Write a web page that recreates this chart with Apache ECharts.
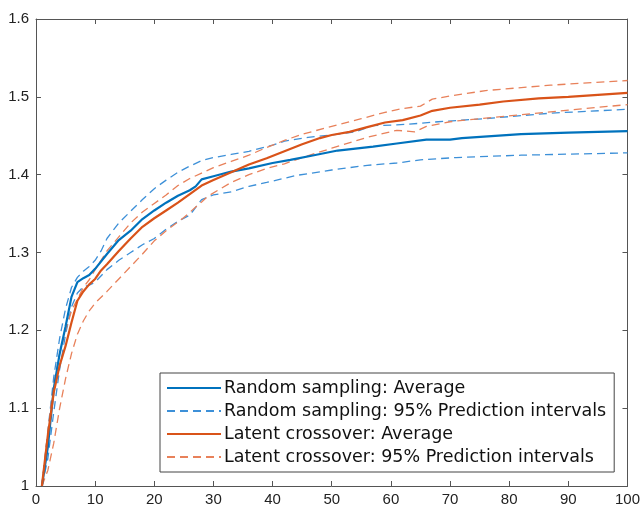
<!DOCTYPE html>
<html>
<head>
<meta charset="utf-8">
<script src="https://cdn.jsdelivr.net/npm/echarts@6/dist/echarts.min.js"></script>
<style>
  html, body { margin: 0; padding: 0; background: #fff; }
  #chart { width: 643px; height: 510px; }
</style>
</head>
<body>
<div id="chart"></div>
<script>
// x positions + values
var rsAvgX = [1,2,3,4,5,6,7,8,9,10,12,14,16,18,20,22,24,26,27,28,30,33,36,40,43,47,51,57,61,66,70,72,82,90,100];
var rsAvg  = [1.0,1.05,1.125,1.17,1.205,1.243,1.262,1.267,1.271,1.279,1.298,1.316,1.328,1.343,1.354,1.364,1.373,1.38,1.385,1.394,1.398,1.404,1.408,1.415,1.419,1.425,1.431,1.436,1.44,1.445,1.445,1.447,1.452,1.454,1.456];

var rsUpX = [1,2,3,4,5,6,7,8,9,10,11,12,14,16,18,20,22,24,26,28,30,33,36,40,42,46,50,54,57,61,65,68,76,87,100];
var rsUp  = [1.0,1.07,1.14,1.19,1.228,1.255,1.268,1.276,1.282,1.29,1.302,1.318,1.338,1.353,1.368,1.382,1.393,1.403,1.411,1.418,1.422,1.426,1.43,1.438,1.443,1.448,1.451,1.455,1.463,1.464,1.466,1.468,1.472,1.479,1.484];

var rsLoX = [1,2,3,4,5,6,7,8,9,10,12,14,16,18,20,22,24,26,27,28,30,33,36,39,44,50,56,61,65,71,82,100];
var rsLo  = [1.0,1.035,1.095,1.15,1.195,1.23,1.248,1.256,1.258,1.262,1.278,1.29,1.3,1.31,1.318,1.33,1.34,1.348,1.358,1.368,1.374,1.378,1.385,1.39,1.399,1.406,1.412,1.415,1.419,1.422,1.425,1.428];

var lcAvgX = [1,2,3,4,5,6,7,8,9,10,11,12,14,16,18,20,22,24,26,28,30,33,36,39,42,45,48,50,53,56,59,62,65,67,70,75,79,85,90,100];
var lcAvg  = [1.0,1.065,1.12,1.155,1.18,1.21,1.238,1.25,1.259,1.266,1.277,1.285,1.302,1.318,1.333,1.344,1.354,1.364,1.375,1.386,1.393,1.403,1.413,1.421,1.43,1.439,1.447,1.451,1.455,1.461,1.467,1.47,1.476,1.482,1.486,1.49,1.494,1.498,1.5,1.505];

var lcUpX = [1,2,3,4,5,6,7,8,9,10,11,12,14,16,18,20,22,24,26,28,30,33,36,39,42,45,50,55,59,62,65,67,70,76,87,100];
var lcUp  = [1.0,1.07,1.13,1.17,1.2,1.225,1.24,1.255,1.265,1.278,1.29,1.302,1.32,1.338,1.352,1.363,1.374,1.386,1.395,1.402,1.409,1.417,1.425,1.435,1.444,1.452,1.462,1.472,1.48,1.485,1.488,1.497,1.501,1.508,1.515,1.521];

var lcLoX = [1,2,3,4,5,6,7,8,9,10,12,14,16,18,20,22,25,28,29,33,36,39,42,45,50,56,61,64,66,70,75,82,90,100];
var lcLo  = [1.0,1.02,1.055,1.1,1.138,1.17,1.195,1.212,1.225,1.235,1.25,1.266,1.282,1.298,1.315,1.328,1.345,1.365,1.372,1.39,1.4,1.408,1.414,1.422,1.434,1.448,1.457,1.455,1.462,1.468,1.472,1.477,1.483,1.49];

var names = [
  'Random sampling: Average',
  'Random sampling: 95% Prediction intervals',
  'Latent crossover: Average',
  'Latent crossover: 95% Prediction intervals'
];

function pairs(xs, ys) {
  var out = [];
  for (var i = 0; i < xs.length; i++) out.push([xs[i], ys[i]]);
  return out;
}

function line(name, data, color, dashed) {
  return {
    name: name,
    type: 'line',
    data: data,
    symbol: 'none',
    smooth: false,
    animation: false,
    lineStyle: dashed ? { color: color, width: 1.3, type: [8, 5] } : { color: color, width: 2.2 },
    itemStyle: { color: color }
  };
}

var blue = '#0072BD', blueD = '#3d90d8';
var orange = '#D95319', orangeD = '#e8815a';

var axisCol = '#555';
var chart = echarts.init(document.getElementById('chart'));
chart.setOption({
  backgroundColor: '#fff',
  textStyle: { fontFamily: 'Liberation Sans, Arial, sans-serif' },
  grid: { left: 36, right: 14, top: 19, bottom: 24, containLabel: false },
  xAxis: [
    {
      type: 'value', min: 0, max: 100, interval: 10, position: 'bottom',
      axisLine: { show: true, onZero: false, lineStyle: { color: axisCol, width: 1 } },
      axisTick: { show: true, inside: true, length: 5, lineStyle: { color: axisCol } },
      axisLabel: { color: '#222', fontSize: 15, margin: 6 },
      splitLine: { show: false }
    },
    {
      type: 'value', min: 0, max: 100, interval: 10, position: 'top',
      axisLine: { show: true, onZero: false, lineStyle: { color: axisCol, width: 1 } },
      axisTick: { show: true, inside: true, length: 5, lineStyle: { color: axisCol } },
      axisLabel: { show: false },
      splitLine: { show: false }
    }
  ],
  yAxis: [
    {
      type: 'value', min: 1, max: 1.6, interval: 0.1, position: 'left',
      axisLine: { show: true, onZero: false, lineStyle: { color: axisCol, width: 1 } },
      axisTick: { show: true, inside: true, length: 5, lineStyle: { color: axisCol } },
      axisLabel: { color: '#222', fontSize: 15, margin: 7,
        formatter: function (v) { return v === 1 ? '1' : v.toFixed(1); } },
      splitLine: { show: false }
    },
    {
      type: 'value', min: 1, max: 1.6, interval: 0.1, position: 'right',
      axisLine: { show: true, onZero: false, lineStyle: { color: axisCol, width: 1 } },
      axisTick: { show: true, inside: true, length: 5, lineStyle: { color: axisCol } },
      axisLabel: { show: false },
      splitLine: { show: false }
    }
  ],
  legend: {
    data: names,
    orient: 'vertical',
    left: 160,
    top: 373,
    itemWidth: 54,
    itemHeight: 14,
    itemGap: 5,
    padding: [6, 8, 6, 6],
    borderColor: '#444',
    borderWidth: 1,
    backgroundColor: '#fff',
    selectedMode: false,
    itemStyle: { opacity: 0 },
    textStyle: { color: '#111', fontSize: 17.5, fontFamily: 'DejaVu Sans', padding: [0, 0, 0, -2] }
  },
  series: [
    line(names[1], pairs(rsUpX, rsUp), blueD, true),
    line(names[1], pairs(rsLoX, rsLo), blueD, true),
    line(names[3], pairs(lcUpX, lcUp), orangeD, true),
    line(names[3], pairs(lcLoX, lcLo), orangeD, true),
    line(names[0], pairs(rsAvgX, rsAvg), blue, false),
    line(names[2], pairs(lcAvgX, lcAvg), orange, false)
  ]
});
</script>
</body>
</html>
